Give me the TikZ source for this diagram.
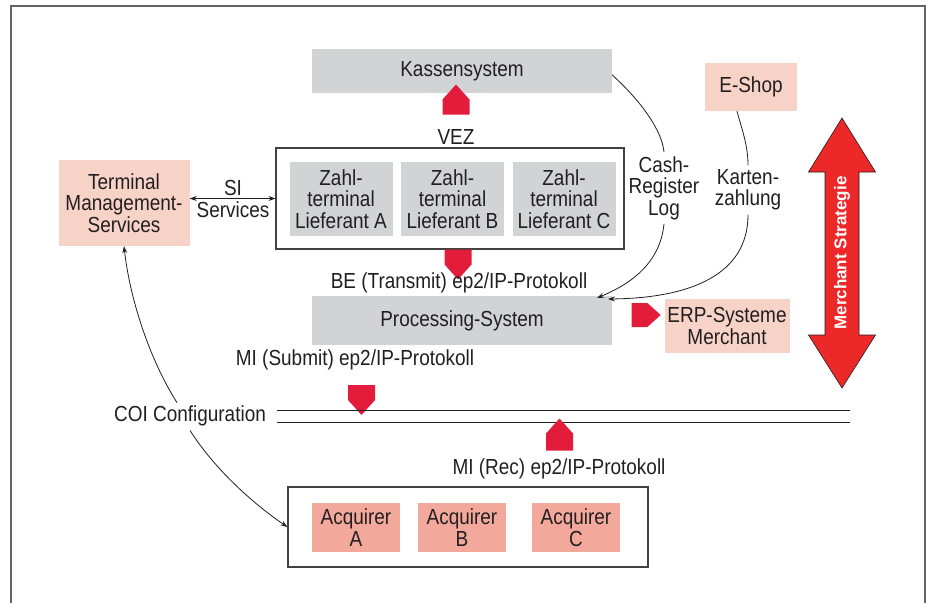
\documentclass[tikz,border=0pt]{standalone}
\usepackage{fontspec}
\setmainfont[FakeStretch=0.87]{Liberation Sans}
\newfontfamily\strategyfont{Liberation Sans}
\usetikzlibrary{arrows.meta,shapes.arrows}

\definecolor{boxGray}{RGB}{209,211,212}
\definecolor{boxPink}{RGB}{247,210,199}
\definecolor{boxSalmon}{RGB}{242,169,155}
\definecolor{flowRed}{RGB}{226,28,58}
\definecolor{bigRed}{RGB}{236,40,41}
\definecolor{inkGray}{RGB}{35,31,32}
\definecolor{frameGray}{RGB}{100,100,100}

\begin{document}
\begin{tikzpicture}[x=1pt,y=-1pt,
        every node/.style={font=\fontsize{21.8}{21.5}\selectfont, text=inkGray, align=center, inner sep=0pt},
        grayBox/.style={fill=boxGray},
        pinkBox/.style={fill=boxPink},
        acqBox/.style={fill=boxSalmon, minimum width=88pt, minimum height=49pt},
        zahlBox/.style={fill=boxGray, minimum width=103pt, minimum height=74pt},
        groupFrame/.style={draw=inkGray!85, line width=1.1pt},
        blockArrow/.style={single arrow, single arrow head extend=0pt, single arrow tip angle=84, fill=flowRed, minimum height=30pt, minimum width=27pt},
        thinLine/.style={draw=inkGray, line width=0.8pt},
        tip/.style={-{Stealth[length=7pt,width=5pt]}}]

        \useasboundingbox (0,0) rectangle (931,603);
        \draw[frameGray, line width=1.5pt] (11,603) -- (11,6) -- (925,6) -- (925,603);

        \node[grayBox, minimum width=300pt, minimum height=44pt] (kasse) at (462,71) {Kassensystem};
        \node[blockArrow, shape border rotate=90] (vezArrow) at (456,107) {};
        \node (vez) at (456,137) {VEZ};

        \node[groupFrame, minimum width=348pt, minimum height=101pt] (termFrame) at (450,198.5) {};
        \node[zahlBox] (zahlA) at (341,199) {Zahl-\\terminal\\Lieferant A};
        \node[zahlBox] (zahlB) at (452.5,199) {Zahl-\\terminal\\Lieferant B};
        \node[zahlBox] (zahlC) at (564,199) {Zahl-\\terminal\\Lieferant C};

        \node[pinkBox, minimum width=131pt, minimum height=86pt] (tms) at (124,203) {Terminal\\Management-\\Services};
        \node (si) at (233,199) {SI\\Services};

        \node[blockArrow, shape border rotate=270] (beArrow) at (458,257) {};
        \node (be) at (459,283) {BE (Transmit) ep2/IP-Protokoll};
        \node[grayBox, minimum width=300pt, minimum height=49pt] (proc) at (462,320.5) {Processing-System};

        \node[blockArrow, minimum height=29pt, minimum width=24pt] (erpArrow) at (639.5,315) {};
        \node[pinkBox, minimum width=125pt, minimum height=54pt] (erp) at (727,326) {ERP-Systeme\\Merchant};

        \node[pinkBox, minimum width=92pt, minimum height=48pt] (eshop) at (751,87) {E-Shop};
        \node (cash) at (664,188) {Cash-\\Register\\Log};
        \node (karten) at (748,190) {Karten-\\zahlung};
        \coordinate (procInCash) at (597,298);
        \coordinate (procInCard) at (608,299);

        \filldraw[fill=bigRed, draw=inkGray, line width=0.6pt] (842,118) -- (875.5,172) -- (859,172) -- (859,335) -- (875.5,335)
            -- (842,388) -- (808.5,335) -- (825,335) -- (825,172) -- (808.5,172) -- cycle;
        \node[rotate=90, font=\strategyfont\bfseries\fontsize{17}{17}\selectfont, text=white] (strategy) at (842,253) {Merchant Strategie};

        \node (submit) at (355,360) {MI (Submit) ep2/IP-Protokoll};
        \node[blockArrow, shape border rotate=270] (submitArrow) at (361.5,392.5) {};
        \node (coi) at (190,416) {COI Configuration};
        \draw[inkGray, line width=1pt] (277,410) -- (850,410);
        \draw[inkGray, line width=1pt] (277,422) -- (850,422);
        \node[blockArrow, shape border rotate=90, minimum height=32pt] (recArrow) at (559.5,442) {};
        \node (rec) at (559,469) {MI (Rec) ep2/IP-Protokoll};

        \node[groupFrame, minimum width=360pt, minimum height=80pt] (acqFrame) at (468,527) {};
        \node[acqBox] (acqA) at (356,527.5) {Acquirer\\A};
        \node[acqBox] (acqB) at (462,527.5) {Acquirer\\B};
        \node[acqBox] (acqC) at (576,527.5) {Acquirer\\C};

        \draw[thinLine, {Stealth[length=7pt,width=5pt]}-{Stealth[length=7pt,width=5pt]}] (tms.east |- termFrame.west) -- (termFrame.west);
        \draw[thinLine] ([yshift=-4pt]kasse.east) .. controls (640,100) and (662,130) .. ([yshift=4pt]cash.north);
        \draw[thinLine, tip] ([yshift=-4pt]cash.south) .. controls (660,265) and (628,285) .. (procInCash);
        \draw[thinLine] ([xshift=-14pt]eshop.south) .. controls (742,130) and (748,145) .. ([yshift=4pt]karten.north);
        \draw[thinLine, tip] ([yshift=-4pt]karten.south) .. controls (748,275) and (690,298) .. (procInCard);
        \draw[thinLine, tip] ([xshift=-13pt,yshift=3pt]coi.north) .. controls (150,360) and (130,300) .. (tms.south);
        \draw[thinLine, tip] ([yshift=-4pt]coi.south) .. controls (215,470) and (255,505) .. (acqFrame.west);
    \end{tikzpicture}
\end{document}
